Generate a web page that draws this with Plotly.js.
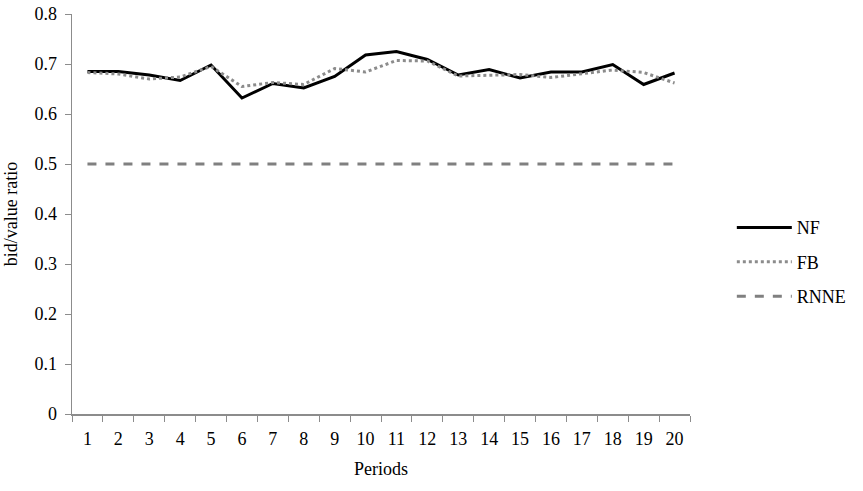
<!DOCTYPE html>
<html>
<head>
<meta charset="utf-8">
<script src="https://cdn.plot.ly/plotly-3.0.1.min.js"></script>
<style>html,body{margin:0;padding:0;background:#fff;}#chart{width:863px;height:491px;}</style>
</head>
<body>
<div id="chart"></div>
<script>
const periods = ["1","2","3","4","5","6","7","8","9","10","11","12","13","14","15","16","17","18","19","20"];
const nf = [0.685,0.685,0.678,0.667,0.698,0.632,0.661,0.652,0.675,0.718,0.725,0.709,0.678,0.689,0.672,0.684,0.684,0.699,0.659,0.682];
const fb = [0.683,0.680,0.670,0.674,0.695,0.655,0.663,0.659,0.691,0.684,0.707,0.706,0.676,0.678,0.679,0.673,0.680,0.688,0.683,0.662];
const rnne = [0.5,0.5,0.5,0.5,0.5,0.5,0.5,0.5,0.5,0.5,0.5,0.5,0.5,0.5,0.5,0.5,0.5,0.5,0.5,0.5];

const font = {family: "Liberation Serif", size: 18, color: "#000"};
const traces = [
  {x: periods, y: nf, name: "NF", legendgroup: "a", mode: "lines", line: {color: "#000000", width: 3}},
  {x: periods, y: fb, name: "FB", legendgroup: "b", mode: "lines", line: {color: "#8c8c8c", width: 3, dash: "dot"}},
  {x: periods, y: rnne, name: "RNNE", legendgroup: "c", mode: "lines", line: {color: "#808080", width: 3, dash: "dash"}}
];
const layout = {
  width: 863, height: 491,
  margin: {l: 72, r: 173, t: 14, b: 77, autoexpand: false},
  paper_bgcolor: "#fff", plot_bgcolor: "#fff",
  font: font,
  showlegend: true,
  legend: {xref: "container", yref: "container", x: 0.848, y: 0.466, xanchor: "left", yanchor: "middle", traceorder: "grouped", tracegroupgap: 8, font: font, itemwidth: 55, bgcolor: "rgba(0,0,0,0)"},
  xaxis: {
    type: "category", range: [-0.5, 19.5], tickson: "boundaries",
    ticks: "outside", ticklen: 6, tickcolor: "#8c8c8c", ticklabelstandoff: 8,
    showline: true, linecolor: "#8c8c8c", linewidth: 1.5,
    showgrid: false, zeroline: false, tickfont: font,
    title: {text: "Periods", font: font, standoff: 14}
  },
  yaxis: {
    range: [0, 0.8], dtick: 0.1, tick0: 0,
    ticks: "outside", ticklen: 6, tickcolor: "#8c8c8c", ticklabelstandoff: 4,
    showline: true, linecolor: "#8c8c8c", linewidth: 1.5,
    showgrid: false, zeroline: false, tickfont: font,
    title: {text: "bid/value ratio", font: font, standoff: 12}
  }
};
Plotly.newPlot("chart", traces, layout, {displayModeBar: false, staticPlot: true});
</script>
</body>
</html>
